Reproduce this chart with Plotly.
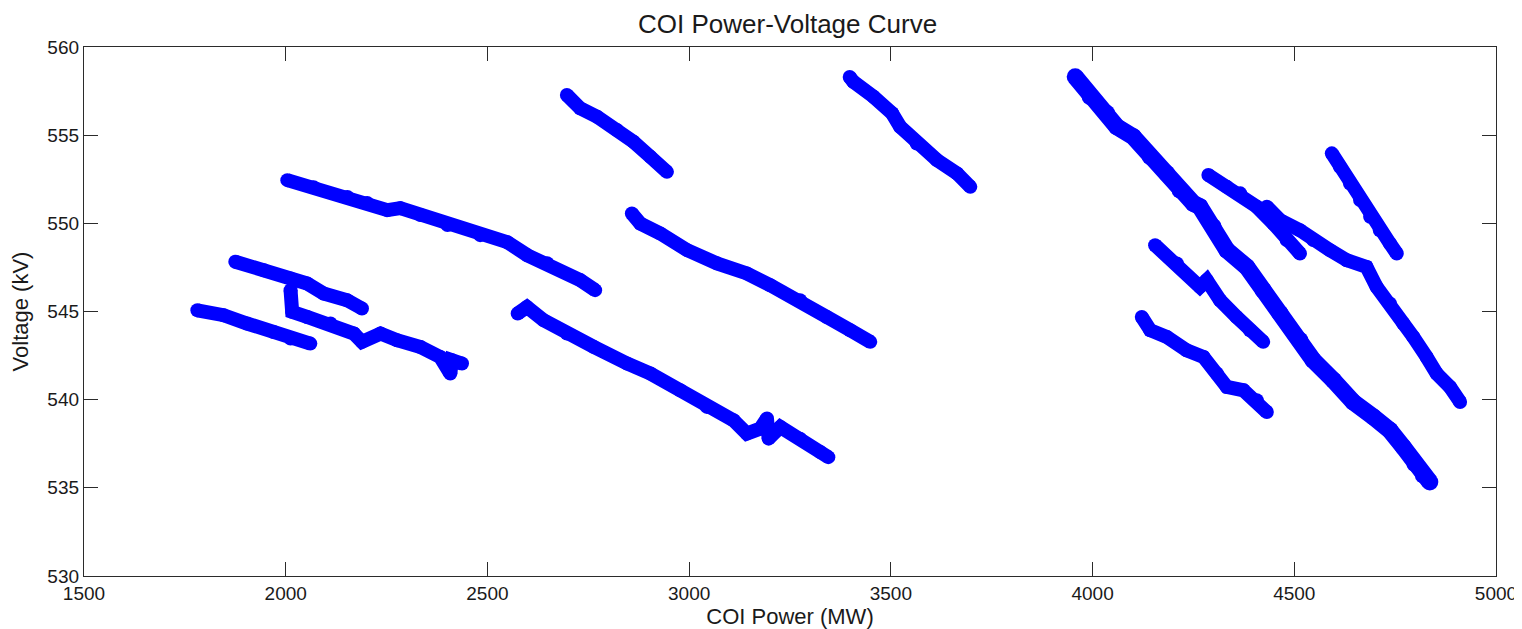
import plotly.graph_objects as go

# Each segment: COI power (MW) and voltage (kV)
seg_a_x = [2004, 2069, 2153, 2202, 2252, 2284, 2334, 2401, 2482, 2549, 2599, 2648, 2730, 2767]
seg_a_y = [552.45, 552.05, 551.49, 551.15, 550.75, 550.86, 550.47, 549.90, 549.33, 548.93, 548.19, 547.74, 546.78, 546.21]

seg_b_x = [1875, 1946, 2012, 2053, 2094, 2152, 2189]
seg_b_y = [547.82, 547.34, 546.87, 546.59, 546.02, 545.64, 545.17]

seg_c_x = [2012, 2016, 2053, 2111, 2169, 2189, 2235, 2276, 2334, 2383, 2408, 2412, 2437]
seg_c_y = [546.21, 544.98, 544.69, 544.32, 543.75, 543.28, 543.75, 543.37, 542.99, 542.42, 541.48, 542.24, 542.05]

seg_d_x = [1781, 1846, 1904, 1970, 2012, 2061]
seg_d_y = [545.07, 544.79, 544.32, 543.84, 543.47, 543.18]

seg_e_x = [2575, 2598, 2639, 2697, 2763, 2846, 2904, 2978, 3044, 3110, 3143, 3176, 3193, 3197, 3226, 3275, 3325, 3345]
seg_e_y = [544.89, 545.26, 544.51, 543.75, 543.00, 542.05, 541.48, 540.53, 539.59, 538.83, 538.08, 538.36, 538.93, 537.79, 538.45, 537.79, 537.03, 536.74]

seg_f_x = [2697, 2730, 2772, 2821, 2862, 2904, 2945]
seg_f_y = [557.28, 556.52, 556.04, 555.29, 554.63, 553.77, 552.92]

seg_g_x = [2858, 2879, 2928, 2995, 3069, 3143, 3201, 3275, 3341, 3399, 3449]
seg_g_y = [550.56, 549.99, 549.43, 548.48, 547.73, 547.16, 546.49, 545.64, 544.69, 543.94, 543.28]

seg_i_x = [3398, 3407, 3457, 3503, 3523, 3564, 3614, 3664, 3697]
seg_i_y = [558.30, 558.03, 557.18, 556.24, 555.48, 554.53, 553.59, 552.83, 552.07]

seg_j_x = [3957, 3994, 4035, 4060, 4101, 4143, 4184, 4217, 4250, 4266, 4299, 4333, 4382, 4423,
           4465, 4514, 4547, 4597, 4646, 4696, 4737, 4770, 4799, 4820, 4836]
seg_j_y = [558.31, 557.18, 556.24, 555.48, 554.91, 553.77, 552.83, 551.88, 551.13, 550.94, 549.80, 548.48, 547.53, 546.21,
           544.89, 543.37, 542.24, 541.10, 539.87, 539.02, 538.26, 537.32, 536.37, 535.71, 535.33]

seg_k_x = [4287, 4333, 4366, 4407, 4448, 4481, 4514]
seg_k_y = [552.74, 552.07, 551.70, 550.94, 549.99, 549.05, 548.29]

seg_l_x = [4432, 4465, 4514, 4547, 4588, 4630, 4679, 4704, 4737, 4770, 4795, 4828, 4853, 4886, 4911]
seg_l_y = [550.94, 550.18, 549.61, 549.05, 548.48, 547.91, 547.53, 546.40, 545.45, 544.32, 543.56, 542.42, 541.48, 540.72, 539.87]

seg_m_x = [4593, 4613, 4638, 4663, 4688, 4712, 4737, 4754]
seg_m_y = [553.97, 553.21, 552.26, 551.32, 550.37, 549.61, 548.86, 548.29]

seg_n_x = [4155, 4209, 4266, 4283, 4316, 4357, 4390, 4423]
seg_n_y = [548.76, 547.72, 546.40, 546.78, 545.64, 544.69, 543.94, 543.28]

seg_o_x = [4122, 4143, 4184, 4233, 4275, 4308, 4333, 4374, 4407, 4432]
seg_o_y = [544.69, 543.94, 543.56, 542.80, 542.42, 541.48, 540.72, 540.53, 539.97, 539.30]

segments = [
    (seg_a_x, seg_a_y), (seg_b_x, seg_b_y), (seg_c_x, seg_c_y), (seg_d_x, seg_d_y),
    (seg_e_x, seg_e_y), (seg_f_x, seg_f_y), (seg_g_x, seg_g_y), (seg_i_x, seg_i_y),
    (seg_j_x, seg_j_y), (seg_k_x, seg_k_y), (seg_l_x, seg_l_y), (seg_m_x, seg_m_y),
    (seg_n_x, seg_n_y), (seg_o_x, seg_o_y),
]
thick = {8: 17}  # the long right-hand trace is drawn heavier in the reference

x_ticks = [1500, 2000, 2500, 3000, 3500, 4000, 4500, 5000]
y_ticks = [530, 535, 540, 545, 550, 555, 560]

BLUE = "#0000FF"
fig = go.Figure()
for i, (sx, sy) in enumerate(segments):
    w = thick.get(i, 14)
    fig.add_trace(go.Scatter(
        x=sx, y=sy, mode="lines+markers",
        line=dict(color=BLUE, width=w, shape="linear"),
        marker=dict(color=BLUE, size=w, line=dict(width=0)),
        hoverinfo="x+y", showlegend=False,
    ))

FONT = "Liberation Sans, Arial, sans-serif"
axis_font = dict(family=FONT, size=19, color="#1a1a1a")
common = dict(
    showline=True, linecolor="#2b2b2b", linewidth=1.3, mirror="ticks",
    ticks="inside", ticklen=14, tickwidth=1.2, tickcolor="#2b2b2b",
    showgrid=False, zeroline=False, tickfont=axis_font, automargin=False,
)
fig.update_xaxes(range=[1500, 5000], tickvals=x_ticks, ticktext=[str(v) for v in x_ticks],
                 title=dict(text="COI Power (MW)", font=dict(family=FONT, size=22, color="#1a1a1a"), standoff=2),
                 **common)
fig.update_yaxes(range=[530, 560], tickvals=y_ticks, ticktext=[str(v) for v in y_ticks],
                 title=dict(text="Voltage (kV)", font=dict(family=FONT, size=22, color="#1a1a1a"), standoff=12),
                 **common)

# the page body has an 8px margin, so the figure is sized to fit inside the window
fig.update_layout(
    width=1514, height=621,
    margin=dict(l=76, r=26, t=39, b=53),
    paper_bgcolor="white", plot_bgcolor="white",
    title=dict(text="COI Power-Voltage Curve", x=0.5149, xanchor="center", xref="container",
               y=0.975, yanchor="middle", yref="container",
               font=dict(family=FONT, size=26, color="#1a1a1a")),
)

fig.write_html("out.html")
